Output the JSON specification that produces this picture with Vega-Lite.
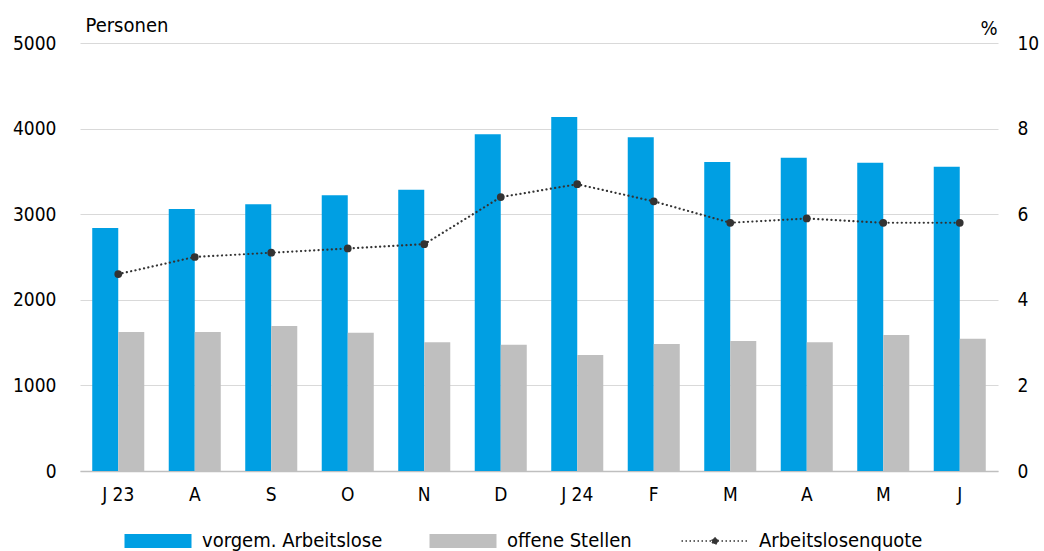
{
  "$schema": "https://vega.github.io/schema/vega-lite/v6.json",
  "autosize": {"type": "none"},
  "padding": {"left": 80, "top": 43, "right": 46, "bottom": 80},
  "width": 918,
  "height": 428,
  "background": "white",
  "config": {
    "font": "DejaVu Sans Condensed, DejaVu Sans",
    "view": {"stroke": null},
    "axis": {"labelColor": "#000000", "titleColor": "#000000", "labelFontWeight": "normal", "titleFontWeight": "normal"}
  },
  "datasets": {
    "bars": [
      {"i": 1, "serie": "vorgem. Arbeitslose", "wert": 2840},
      {"i": 2, "serie": "vorgem. Arbeitslose", "wert": 3060},
      {"i": 3, "serie": "vorgem. Arbeitslose", "wert": 3115},
      {"i": 4, "serie": "vorgem. Arbeitslose", "wert": 3220},
      {"i": 5, "serie": "vorgem. Arbeitslose", "wert": 3285},
      {"i": 6, "serie": "vorgem. Arbeitslose", "wert": 3935},
      {"i": 7, "serie": "vorgem. Arbeitslose", "wert": 4135},
      {"i": 8, "serie": "vorgem. Arbeitslose", "wert": 3900},
      {"i": 9, "serie": "vorgem. Arbeitslose", "wert": 3610},
      {"i": 10, "serie": "vorgem. Arbeitslose", "wert": 3660},
      {"i": 11, "serie": "vorgem. Arbeitslose", "wert": 3600},
      {"i": 12, "serie": "vorgem. Arbeitslose", "wert": 3555},
      {"i": 1, "serie": "offene Stellen", "wert": 1625},
      {"i": 2, "serie": "offene Stellen", "wert": 1625},
      {"i": 3, "serie": "offene Stellen", "wert": 1695},
      {"i": 4, "serie": "offene Stellen", "wert": 1615},
      {"i": 5, "serie": "offene Stellen", "wert": 1505},
      {"i": 6, "serie": "offene Stellen", "wert": 1475},
      {"i": 7, "serie": "offene Stellen", "wert": 1355},
      {"i": 8, "serie": "offene Stellen", "wert": 1485},
      {"i": 9, "serie": "offene Stellen", "wert": 1520},
      {"i": 10, "serie": "offene Stellen", "wert": 1505},
      {"i": 11, "serie": "offene Stellen", "wert": 1590},
      {"i": 12, "serie": "offene Stellen", "wert": 1545}
    ],
    "quote": [
      {"i": 1, "quote": 4.6},
      {"i": 2, "quote": 5.0},
      {"i": 3, "quote": 5.1},
      {"i": 4, "quote": 5.2},
      {"i": 5, "quote": 5.3},
      {"i": 6, "quote": 6.4},
      {"i": 7, "quote": 6.7},
      {"i": 8, "quote": 6.3},
      {"i": 9, "quote": 5.8},
      {"i": 10, "quote": 5.9},
      {"i": 11, "quote": 5.8},
      {"i": 12, "quote": 5.8}
    ]
  },
  "encoding": {
    "x": {
      "field": "i",
      "type": "ordinal",
      "scale": {"paddingInner": 0.32, "paddingOuter": 0.16},
      "axis": {
        "title": null,
        "labelAngle": 0,
        "ticks": false,
        "domainColor": "#bfbfbf",
        "domainWidth": 1.5,
        "labelFontSize": 19,
        "labelPadding": 14,
        "labelExpr": "['J 23','A','S','O','N','D','J 24','F','M','A','M','J'][datum.value - 1]"
      }
    }
  },
  "layer": [
    {
      "data": {"name": "bars"},
      "mark": {"type": "bar"},
      "encoding": {
        "xOffset": {"field": "serie", "type": "nominal", "scale": {"domain": ["vorgem. Arbeitslose", "offene Stellen"]}},
        "y": {
          "field": "wert",
          "type": "quantitative",
          "scale": {"domain": [0, 5000]},
          "axis": {
            "title": "Personen",
            "titleAngle": 0,
            "titleAlign": "left",
            "titleBaseline": "alphabetic",
            "titleX": 5,
            "titleY": -12,
            "titleFontSize": 20,
            "values": [0, 1000, 2000, 3000, 4000, 5000],
            "format": "d",
            "domain": false,
            "ticks": false,
            "grid": true,
            "gridColor": "#d9d9d9",
            "gridWidth": 1,
            "labelFontSize": 19,
            "labelPadding": 24
          }
        },
        "color": {
          "field": "serie",
          "type": "nominal",
          "scale": {
            "domain": ["vorgem. Arbeitslose", "offene Stellen", "Arbeitslosenquote"],
            "range": ["#009FE3", "#BFBFBF", "#333333"]
          },
          "legend": {
            "title": null,
            "orient": "none",
            "legendX": 68,
            "legendY": 488,
            "direction": "horizontal",
            "padding": 0,
            "symbolSize": 4489,
            "columnPadding": 46,
            "labelOffset": 34,
            "labelFontSize": 20,
            "labelColor": "#000000",
            "labelLimit": 400,
            "encode": {
              "symbols": {
                "update": {
                  "shape": {"signal": "datum.value == 'Arbeitslosenquote' ? 'M-1,0H1M-0.09,0A0.09,0.09 0 1,1 0.09,0A0.09,0.09 0 1,1 -0.09,0Z' : 'M-1,-0.21H1V0.21H-1Z'"},
                  "fill": {"signal": "datum.value == 'Arbeitslosenquote' ? '#333333' : (datum.value == 'offene Stellen' ? '#BFBFBF' : '#009FE3')"},
                  "stroke": {"value": "#333333"},
                  "strokeWidth": {"signal": "datum.value == 'Arbeitslosenquote' ? 1.5 : 0"},
                  "strokeDash": {"signal": "datum.value == 'Arbeitslosenquote' ? [1.5, 2.5] : [1, 0]"},
                  "opacity": {"value": 1}
                }
              }
            }
          }
        }
      }
    },
    {
      "data": {"name": "quote"},
      "encoding": {
        "y": {
          "field": "quote",
          "type": "quantitative",
          "scale": {"domain": [0, 10]},
          "axis": {
            "orient": "right",
            "title": "%",
            "titleAngle": 0,
            "titleAlign": "right",
            "titleBaseline": "alphabetic",
            "titleX": -1,
            "titleY": -9,
            "titleFontSize": 20,
            "values": [0, 2, 4, 6, 8, 10],
            "domain": false,
            "ticks": false,
            "grid": false,
            "labelFontSize": 19,
            "labelPadding": 19
          }
        }
      },
      "layer": [
        {
          "mark": {"type": "line", "color": "#333333", "strokeWidth": 2.2, "strokeDash": [0.1, 4.3], "strokeCap": "round"}
        },
        {
          "mark": {"type": "point", "filled": true, "color": "#333333", "size": 60, "opacity": 1}
        }
      ]
    }
  ],
  "resolve": {"scale": {"y": "independent"}}
}
